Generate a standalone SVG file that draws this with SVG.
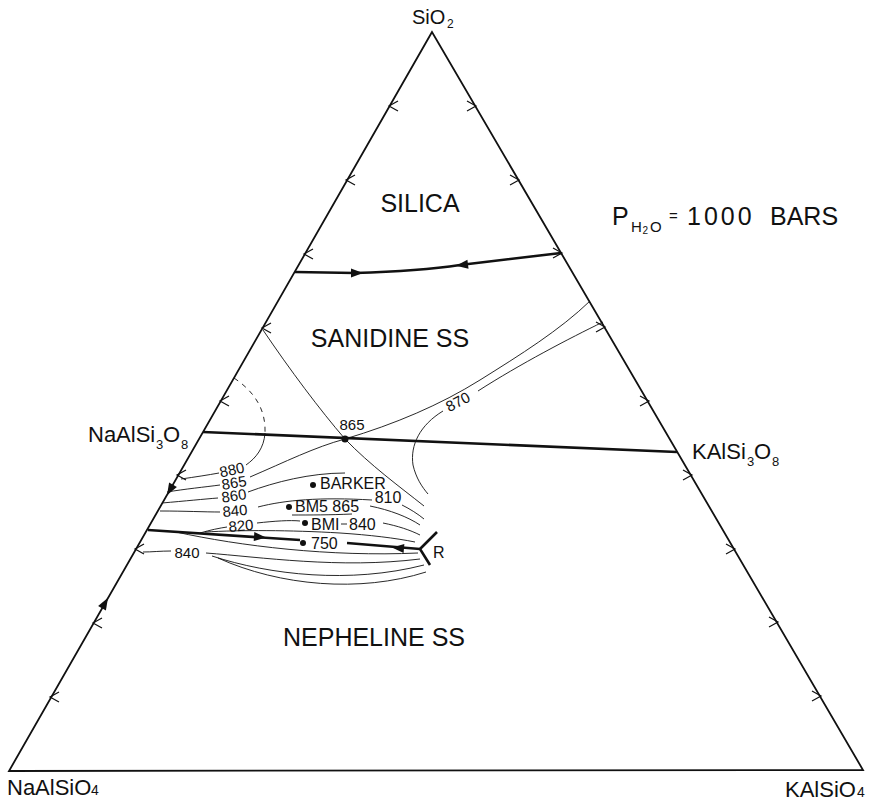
<svg xmlns="http://www.w3.org/2000/svg" width="873" height="807" viewBox="0 0 873 807">
<style>
text{font-family:"Liberation Sans",Arial,sans-serif;fill:#111}
.big{font-size:25px}
.lab{font-size:22px}
.iso{font-size:15px}
.pt{font-size:16px}
.edge{fill:none;stroke:#111;stroke-width:1.8}
.thick{fill:none;stroke:#111;stroke-width:2.6}
.thin{fill:none;stroke:#111;stroke-width:0.9}
.dash{fill:none;stroke:#111;stroke-width:0.9;stroke-dasharray:5 5}
.chev{fill:none;stroke:#111;stroke-width:1.2}
.arr{fill:#111}
.dot{fill:#111}
</style>
<defs>
<path id="chL" class="chev" d="M8,-5 L-1,0 L8,5"/>
<path id="chR" class="chev" d="M-8,-5 L1,0 L-8,5"/>
<path id="ah" class="arr" d="M6,0 L-6,-4.5 L-6,4.5 Z"/>
</defs>
<rect width="873" height="807" fill="#fff"/>

<g id="triangle">
<path class="edge" d="M432,32 L9,771 L863,770 Z"/>
<g id="ticks-left">
<use href="#chL" x="51" y="697"/>
<use href="#chL" x="94" y="623"/>
<use href="#chL" x="136" y="549"/>
<use href="#chL" x="178" y="475"/>
<use href="#chL" x="221" y="401"/>
<use href="#chL" x="263" y="328"/>
<use href="#chL" x="305" y="254"/>
<use href="#chL" x="347" y="180"/>
<use href="#chL" x="390" y="106"/>
</g>
<g id="ticks-right">
<use href="#chR" x="820" y="696"/>
<use href="#chR" x="777" y="622"/>
<use href="#chR" x="734" y="549"/>
<use href="#chR" x="691" y="475"/>
<use href="#chR" x="648" y="401"/>
<use href="#chR" x="604" y="327"/>
<use href="#chR" x="561" y="253"/>
<use href="#chR" x="518" y="180"/>
<use href="#chR" x="475" y="106"/>
</g>
<use href="#ah" transform="translate(170,490) rotate(120)"/>
<use href="#ah" transform="translate(105,603) rotate(-60)"/>
</g>

<g id="connectors">
<!-- silica / sanidine boundary -->
<path class="thick" d="M295,272 L355,273 Q420,271 460,265 L561,253"/>
<use href="#ah" transform="translate(357,273) rotate(0)"/>
<use href="#ah" transform="translate(462,265) rotate(173)"/>
<!-- Ab-Or join -->
<path class="thick" d="M203,432 L677,452"/>
<!-- nepheline / feldspar boundary -->
<path class="thick" d="M148,530 L300,540"/>
<path class="thick" d="M347,543 L420,549"/>
<use href="#ah" transform="translate(260,537) rotate(4)"/>
<use href="#ah" transform="translate(398,548) rotate(185)"/>
<path class="thick" d="M437,532 L420,549 L430,565" stroke-width="2"/>

<!-- thermal valley / saddle lines -->
<path class="thin" d="M263,330 C290,370 320,410 345,439 C370,465 400,487 424,506"/>
<path class="thin" d="M250,477 C285,462 315,447 345,439 C395,424 440,405 480,380 C520,355 560,330 590,301"/>
<path class="thin" d="M603,322 C570,338 520,364 478,391"/>
<path class="thin" d="M443,411 C420,425 410,445 413,465 C416,478 422,487 428,494"/>
<!-- 880 -->
<path class="dash" d="M234,378 C255,392 266,410 265,433"/>
<path class="thin" d="M265,433 C264,448 256,458 246,465"/>
<path class="thin" d="M181,479 C195,477 208,475 219,473"/>
<!-- 865 left -->
<path class="thin" d="M167,492 C185,489 205,487 220,485"/>
<!-- 860 -->
<path class="thin" d="M162,503 C185,501 205,499 218,498"/>
<path class="thin" d="M248,492 C275,482 310,473 345,473"/>
<!-- 840 upper -->
<path class="thin" d="M160,511 C185,511 205,512 220,512"/>
<path class="thin" d="M258,507 C285,500 320,497 372,500"/>
<path class="thin" d="M402,505 C410,509 418,514 424,519"/>
<!-- BM5 865 -->
<path class="thin" d="M292,515 C310,515 330,515 352,514"/>
<path class="thin" d="M370,506 C390,510 408,517 420,525"/>
<!-- 820 -->
<path class="thin" d="M200,533 C210,530 220,528 227,527"/>
<path class="thin" d="M257,523 C275,521 290,520 300,521"/>
<path class="thin" d="M341,524 L347,524"/>
<path class="thin" d="M383,523 C398,526 410,530 420,535"/>
<path class="thin" d="M205,532 C240,530 290,530 340,533 C370,535 395,538 415,542"/>
<!-- lower curves -->
<path class="thin" d="M143,552 C152,552 160,551 171,551"/>
<path class="thin" d="M176,532 C240,546 330,557 418,553"/>
<path class="thin" d="M206,553 C260,557 340,569 420,559"/>
<path class="thin" d="M212,556 C270,575 350,584 424,565"/>
<path class="thin" d="M218,558 C280,586 360,593 426,572"/>
</g>

<g id="node-SiO2"><text x="412" y="24" style="font-size:20px">SiO</text><text x="447" y="28" style="font-size:12px">2</text></g>
<g id="node-NaAlSi3O8"><text class="lab" x="88" y="442">NaAlSi</text><text x="156" y="449" style="font-size:13px">3</text><text class="lab" x="163" y="442">O</text><text x="181" y="449" style="font-size:13px">8</text></g>
<g id="node-KAlSi3O8"><text class="lab" x="692" y="459">KAlSi</text><text x="747" y="466" style="font-size:13px">3</text><text class="lab" x="754" y="459">O</text><text x="772" y="466" style="font-size:13px">8</text></g>
<g id="node-NaAlSiO4"><text class="lab" x="7" y="795">NaAlSiO</text><text x="91" y="795" style="font-size:14px">4</text></g>
<g id="node-KAlSiO4"><text class="lab" x="785" y="797">KAlSiO</text><text x="857" y="797" style="font-size:14px">4</text></g>

<g id="field-silica"><text class="big" x="420" y="212" text-anchor="middle">SILICA</text></g>
<g id="field-sanidine"><text class="big" x="390" y="347" text-anchor="middle">SANIDINE SS</text></g>
<g id="field-nepheline"><text class="big" x="374" y="646" text-anchor="middle">NEPHELINE SS</text></g>
<g id="pressure">
<text class="big" x="612" y="225">P</text>
<text x="631" y="232" style="font-size:15px">H</text>
<text x="642.5" y="234" style="font-size:10px">2</text>
<text x="650" y="232" style="font-size:15px">O</text>
<text x="669" y="221" style="font-size:15px">=</text>
<text class="big" x="687" y="225" style="letter-spacing:3px">1000</text>
<text class="big" x="770" y="225">BARS</text>
</g>

<g id="isotherm-labels">
<text class="iso" x="232" y="475" text-anchor="middle" transform="rotate(-12 232 470)">880</text>
<text class="iso" x="234" y="488" text-anchor="middle" transform="rotate(-9 234 483)">865</text>
<text class="iso" x="234" y="501" text-anchor="middle" transform="rotate(-8 234 496)">860</text>
<text class="iso" x="235" y="516" text-anchor="middle" transform="rotate(-5 235 511)">840</text>
<text class="iso" x="241" y="531" text-anchor="middle" transform="rotate(-5 241 526)">820</text>
<text class="iso" x="187" y="558" text-anchor="middle">840</text>
<text class="iso" x="352" y="430" text-anchor="middle">865</text>
<text class="iso" x="458" y="407" text-anchor="middle" transform="rotate(-28 458 402)">870</text>
<text class="pt" x="388" y="503" text-anchor="middle">810</text>
</g>

<g id="saddle"><circle class="dot" cx="345" cy="439" r="3.5"/></g>
<g id="sample-barker"><circle class="dot" cx="313" cy="485" r="3"/><text class="pt" x="320" y="489">BARKER</text></g>
<g id="sample-bm5"><circle class="dot" cx="289" cy="507" r="3"/><text class="pt" x="295" y="512">BM5 865</text></g>
<g id="sample-bmi"><circle class="dot" cx="305" cy="523" r="3"/><text class="pt" x="311" y="530">BMI</text><text class="pt" x="349" y="530">840</text></g>
<g id="sample-750"><circle class="dot" cx="303" cy="543" r="3"/><text class="pt" x="311" y="549">750</text></g>
<g id="point-R"><text class="pt" x="433" y="558">R</text></g>
</svg>
